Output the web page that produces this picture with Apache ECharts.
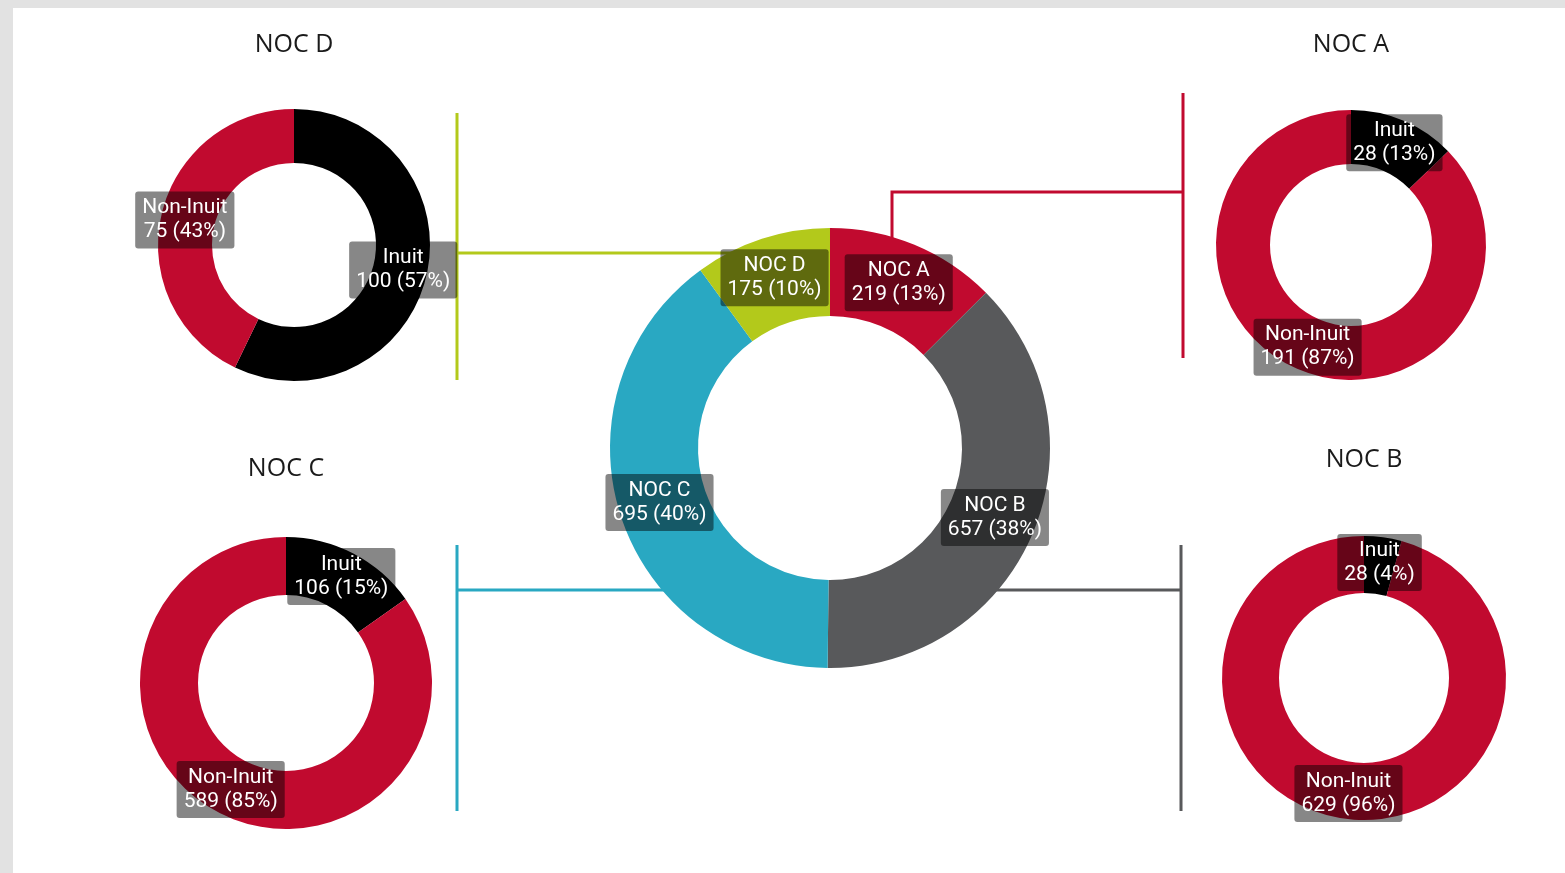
<!DOCTYPE html>
<html>
<head>
<meta charset="utf-8">
<script src="https://cdn.jsdelivr.net/npm/echarts@6/dist/echarts.min.js"></script>
<style>
html,body{margin:0;padding:0;background:#e2e2e2;}
#chart{width:1565px;height:873px;}
</style>
</head>
<body>
<div id="chart"></div>
<script>
// ---- data ----
const nocNames = ['NOC A', 'NOC B', 'NOC C', 'NOC D'];
const nocTotals = [219, 657, 695, 175];
const groupNames = ['Inuit', 'Non-Inuit'];
const inuitCounts = [28, 28, 106, 100];
const nonInuitCounts = [191, 629, 589, 75];

// ---- styling / layout ----
const nocColors = ['#c10a2f', '#58595b', '#29a8c2', '#b3c91b'];
const groupColors = ['#000000', '#c10a2f'];
const layout = {
  'NOC A': {center: [1351, 245], r: 135, title: [1351, 44]},
  'NOC B': {center: [1364, 678], r: 142, title: [1364, 459]},
  'NOC C': {center: [286, 683], r: 146, title: [286, 468]},
  'NOC D': {center: [294, 245], r: 136, title: [294, 44]}
};

function pctFormatter(values) {
  const total = values.reduce((a, b) => a + b, 0);
  return function (p) {
    return p.name + '\n' + p.value + ' (' + Math.round(p.value / total * 100) + '%)';
  };
}
const labelStyle = {
  show: true,
  position: 'inside',
  color: '#ffffff',
  fontFamily: 'Roboto, "DejaVu Sans", sans-serif',
  fontSize: 21,
  lineHeight: 24,
  backgroundColor: 'rgba(0,0,0,0.47)',
  borderRadius: 3,
  padding: [5, 7, 4, 7]
};

const series = [];
// central donut
series.push({
  type: 'pie',
  center: [830, 448],
  radius: [132, 220],
  startAngle: 90,
  clockwise: true,
  silent: true,
  z: 3,
  label: Object.assign({}, labelStyle, {formatter: pctFormatter(nocTotals)}),
  labelLine: {show: false},
  data: nocNames.map((n, i) => ({name: n, value: nocTotals[i], itemStyle: {color: nocColors[i]}}))
});
// small donuts
nocNames.forEach((n, i) => {
  const vals = [inuitCounts[i], nonInuitCounts[i]];
  const L = layout[n];
  series.push({
    type: 'pie',
    center: L.center,
    radius: [Math.round(L.r * 0.6), L.r],
    startAngle: 90,
    clockwise: true,
    silent: true,
    z: 3,
    label: Object.assign({}, labelStyle, {formatter: pctFormatter(vals)}),
    labelLine: {show: false},
    data: groupNames.map((g, j) => ({name: g, value: vals[j], itemStyle: {color: groupColors[j]}}))
  });
});

const titles = nocNames.map(n => ({
  text: n,
  left: layout[n].title[0],
  top: layout[n].title[1] - 12,
  textAlign: 'center',
  padding: 0,
  textStyle: {fontFamily: '"Open Sans", sans-serif', fontWeight: 'normal', fontSize: 25, color: '#1a1a1a'}
}));

function line(points, color) {
  return {type: 'polyline', z: 1, shape: {points: points}, style: {stroke: color, lineWidth: 3, fill: null}};
}
const graphics = [
  {type: 'rect', z: 0, shape: {x: 13, y: 8, width: 1565, height: 873}, style: {fill: '#ffffff'}},
  // NOC D connector (lime)
  line([[457, 113], [457, 380]], nocColors[3]),
  line([[457, 253], [745, 253]], nocColors[3]),
  // NOC A connector (red)
  line([[1183, 93], [1183, 358]], nocColors[0]),
  line([[1183, 192], [892, 192], [892, 252]], nocColors[0]),
  // NOC C connector (teal)
  line([[457, 545], [457, 811]], nocColors[2]),
  line([[457, 590], [680, 590]], nocColors[2]),
  // NOC B connector (gray)
  line([[1181, 545], [1181, 811]], nocColors[1]),
  line([[985, 590], [1181, 590]], nocColors[1])
];

const chart = echarts.init(document.getElementById('chart'), null, {renderer: 'canvas'});
chart.setOption({
  backgroundColor: '#e2e2e2',
  animation: false,
  title: titles,
  graphic: {elements: graphics},
  series: series
});
</script>
</body>
</html>
